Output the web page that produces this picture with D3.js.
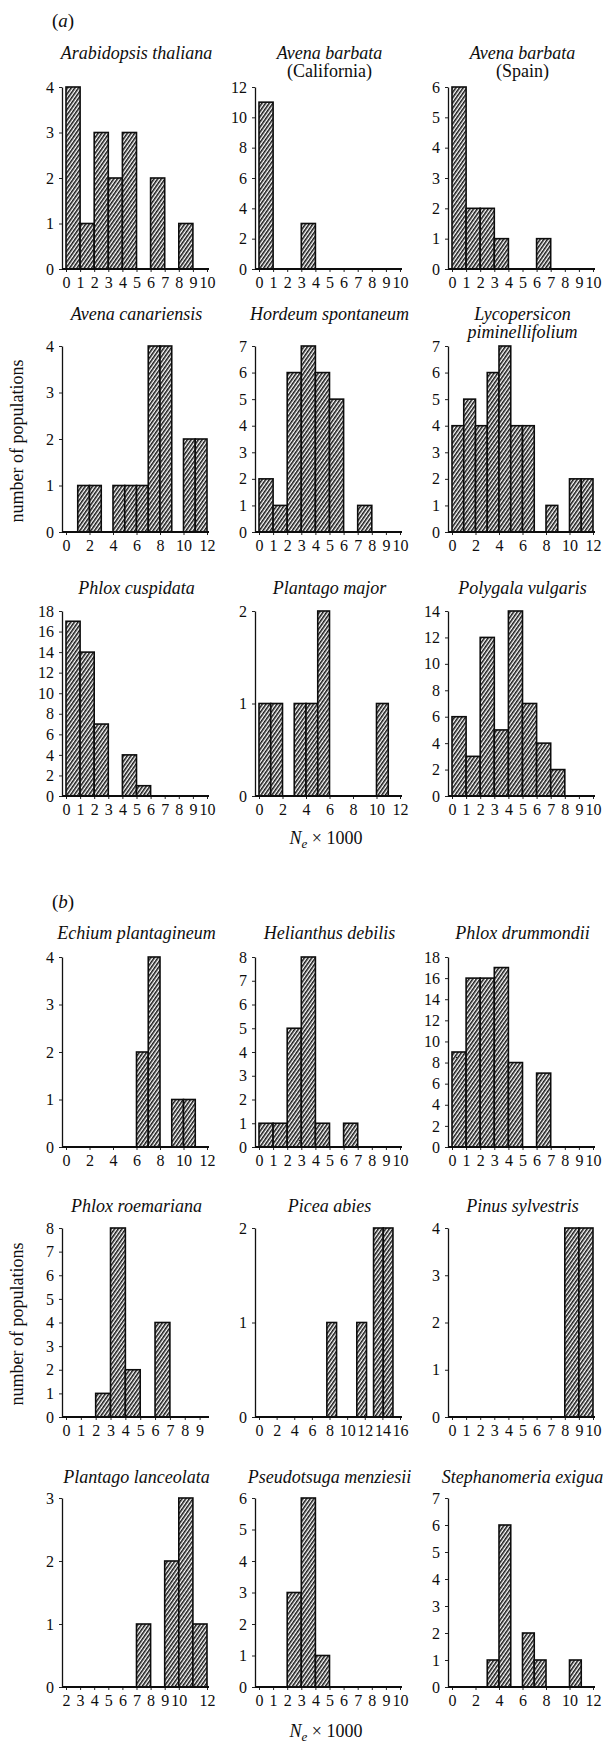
<!DOCTYPE html>
<html lang="en">
<head>
<meta charset="UTF-8">
<script src="https://cdn.jsdelivr.net/npm/d3@7"></script>
<title>Ne histograms</title>
<style>
  * { box-sizing: border-box; margin: 0; padding: 0; }
  body, html { width: 609px; height: 1744px; background: #fff; }
  svg text { font-family: "Liberation Serif", "Times New Roman", serif; fill: #0d0d0d; }
</style>
</head>
<body>
<svg id="fig" width="609" height="1744"></svg>
<script>
// panels in reading order: (a) rows 1-3, then (b) rows 1-3
var titles = [
  ["Arabidopsis thaliana"], ["Avena barbata", "(California)"], ["Avena barbata", "(Spain)"],
  ["Avena canariensis"], ["Hordeum spontaneum"], ["Lycopersicon", "piminellifolium"],
  ["Phlox cuspidata"], ["Plantago major"], ["Polygala vulgaris"],
  ["Echium plantagineum"], ["Helianthus debilis"], ["Phlox drummondii"],
  ["Phlox roemariana"], ["Picea abies"], ["Pinus sylvestris"],
  ["Plantago lanceolata"], ["Pseudotsuga menziesii"], ["Stephanomeria exigua"]
];

// left edge of each non-empty bin (Ne x 1000)
var binStarts = [
  [0, 1, 2, 3, 4, 6, 8],
  [0, 3],
  [0, 1, 2, 3, 6],
  [1, 2, 4, 5, 6, 7, 8, 10, 11],
  [0, 1, 2, 3, 4, 5, 7],
  [0, 1, 2, 3, 4, 5, 6, 8, 10, 11],
  [0, 1, 2, 4, 5],
  [0, 1, 3, 4, 5, 10],
  [0, 1, 2, 3, 4, 5, 6, 7],
  [6, 7, 9, 10],
  [0, 1, 2, 3, 4, 6],
  [0, 1, 2, 3, 4, 6],
  [2, 3, 4, 6],
  [7.7, 11.1, 13, 14.1],
  [8, 9],
  [7, 9, 10, 11],
  [2, 3, 4],
  [3, 4, 6, 7, 10]
];

// number of populations in each of those bins
var counts = [
  [4, 1, 3, 2, 3, 2, 1],
  [11, 3],
  [6, 2, 2, 1, 1],
  [1, 1, 1, 1, 1, 4, 4, 2, 2],
  [2, 1, 6, 7, 6, 5, 1],
  [4, 5, 4, 6, 7, 4, 4, 1, 2, 2],
  [17, 14, 7, 4, 1],
  [1, 1, 1, 1, 2, 1],
  [6, 3, 12, 5, 14, 7, 4, 2],
  [2, 4, 1, 1],
  [1, 1, 5, 8, 1, 1],
  [9, 16, 16, 17, 8, 7],
  [1, 8, 2, 4],
  [1, 1, 2, 2],
  [4, 4],
  [1, 2, 3, 1],
  [3, 6, 1],
  [1, 6, 2, 1, 1]
];

var binWidths = [1, 1, 1, 1, 1, 1, 1, 1, 1, 1, 1, 1, 1, 1.1, 1, 1, 1, 1];

var xDomains = [
  [0, 10], [0, 10], [0, 10],
  [0, 12], [0, 10], [0, 12],
  [0, 10], [0, 12], [0, 10],
  [0, 12], [0, 10], [0, 10],
  [0, 9.5], [0, 16], [0, 10],
  [2, 12], [0, 10], [0, 12]
];

var ticksTen = [0, 1, 2, 3, 4, 5, 6, 7, 8, 9, 10];
var ticksTwelve = [0, 2, 4, 6, 8, 10, 12];
var ticksNine = [0, 1, 2, 3, 4, 5, 6, 7, 8, 9];
var ticksSixteen = [0, 2, 4, 6, 8, 10, 12, 14, 16];
var ticksLanceolata = [2, 3, 4, 5, 6, 7, 8, 9, 10, 12];
var xTicks = [
  ticksTen, ticksTen, ticksTen,
  ticksTwelve, ticksTen, ticksTwelve,
  ticksTen, ticksTwelve, ticksTen,
  ticksTwelve, ticksTen, ticksTen,
  ticksNine, ticksSixteen, ticksTen,
  ticksLanceolata, ticksTen, ticksTwelve
];

var yMax = [4, 12, 6, 4, 7, 7, 18, 2, 14, 4, 8, 18, 8, 2, 4, 3, 6, 7];
var yStep = [1, 2, 1, 1, 1, 1, 2, 1, 2, 1, 1, 2, 1, 1, 1, 1, 1, 1];

var partLabels = ["a", "b"];
var yAxisTitle = "number of populations";

// layout
var colAxisX = [62, 255, 448];
var rowTitleY = [59, 320, 594, 939, 1212, 1483];
var rowTop = [87, 346, 611, 957, 1228, 1498];
var rowZero = [269, 532, 796, 1147, 1417, 1687];
var partLabelY = [27, 908];
var yTitleY = [441, 1324];
var neLabelY = [844, 1737];
var plotInset = 4;
var plotWidth = 141;
var serif = '"Liberation Serif", "Times New Roman", serif';

var svg = d3.select('#fig');

// dense "////" hatching used for every bar
var hatch = svg.append('defs').append('pattern')
  .attr('id', 'hatch')
  .attr('patternUnits', 'userSpaceOnUse')
  .attr('width', 3)
  .attr('height', 3)
  .attr('patternTransform', 'rotate(35)');
hatch.append('rect')
  .attr('width', 3).attr('height', 3).attr('fill', '#fff');
hatch.append('line')
  .attr('x1', 0.8).attr('y1', 0).attr('x2', 0.8).attr('y2', 3)
  .attr('stroke', '#111').attr('stroke-width', 1.55);

function drawPanel(i) {
  var row = Math.floor(i / 3);
  var col = i % 3;
  var ax = colAxisX[col];
  var top = rowTop[row];
  var zero = rowZero[row];

  var x = d3.scaleLinear()
    .domain(xDomains[i])
    .range([ax + plotInset, ax + plotInset + plotWidth]);
  var y = d3.scaleLinear()
    .domain([0, yMax[i]])
    .range([zero, top]);

  var g = svg.append('g');

  // title (one or two lines)
  titles[i].forEach(function (line, k) {
    g.append('text')
      .attr('x', ax + plotInset + plotWidth / 2)
      .attr('y', rowTitleY[row] + k * 18)
      .attr('text-anchor', 'middle')
      .attr('font-size', 18)
      .attr('font-style', line.charAt(0) === '(' ? 'normal' : 'italic')
      .text(line);
  });

  var bars = binStarts[i].map(function (s, k) {
    return { x0: s, x1: s + binWidths[i], n: counts[i][k] };
  });

  g.selectAll('rect.bar')
    .data(bars)
    .enter()
    .append('rect')
    .attr('class', 'bar')
    .attr('x', function (d) { return x(d.x0); })
    .attr('width', function (d) { return x(d.x1) - x(d.x0); })
    .attr('y', function (d) { return y(d.n); })
    .attr('height', function (d) { return zero - y(d.n); })
    .attr('fill', 'url(#hatch)')
    .attr('stroke', '#0d0d0d')
    .attr('stroke-width', 1.6);

  // x axis
  var xa = g.append('g')
    .attr('transform', 'translate(0,' + zero + ')')
    .call(d3.axisBottom(x).tickValues(xTicks[i]).tickFormat(d3.format('d'))
      .tickSize(3).tickSizeOuter(0).tickPadding(5));
  xa.select('.domain').remove();
  xa.selectAll('line').attr('stroke', '#222');
  xa.selectAll('text')
    .attr('font-size', 16)
    .attr('font-family', serif)
    .attr('fill', '#0d0d0d');
  g.append('line')
    .attr('x1', ax).attr('x2', x.range()[1] + 2)
    .attr('y1', zero).attr('y2', zero)
    .attr('stroke', '#0d0d0d').attr('stroke-width', 1.8);

  // y axis
  var ya = g.append('g')
    .attr('transform', 'translate(' + ax + ',0)')
    .call(d3.axisLeft(y).tickValues(d3.range(0, yMax[i] + 0.01, yStep[i]))
      .tickFormat(d3.format('d'))
      .tickSize(3).tickSizeOuter(0).tickPadding(5));
  ya.select('.domain').attr('stroke', '#111').attr('stroke-width', 1.3);
  ya.selectAll('line').attr('stroke', '#222');
  ya.selectAll('text')
    .attr('font-size', 16)
    .attr('font-family', serif)
    .attr('fill', '#0d0d0d');
}

for (var i = 0; i < titles.length; i++) {
  drawPanel(i);
}

// part labels, y-axis titles and x-axis titles
partLabels.forEach(function (p, k) {
  var t = svg.append('text')
    .attr('x', 52)
    .attr('y', partLabelY[k])
    .attr('font-size', 19);
  t.append('tspan').text('(');
  t.append('tspan').attr('font-style', 'italic').text(p);
  t.append('tspan').text(')');

  svg.append('text')
    .attr('transform', 'translate(23,' + yTitleY[k] + ') rotate(-90)')
    .attr('text-anchor', 'middle')
    .attr('font-size', 18)
    .text(yAxisTitle);

  var ne = svg.append('text')
    .attr('x', 326)
    .attr('y', neLabelY[k])
    .attr('text-anchor', 'middle')
    .attr('font-size', 18);
  ne.append('tspan').attr('font-style', 'italic').text('N');
  ne.append('tspan').attr('font-style', 'italic').attr('font-size', 13).attr('dy', 4).text('e');
  ne.append('tspan').attr('dy', -4).text(' \u00d7 1000');
});
</script>
</body>
</html>
